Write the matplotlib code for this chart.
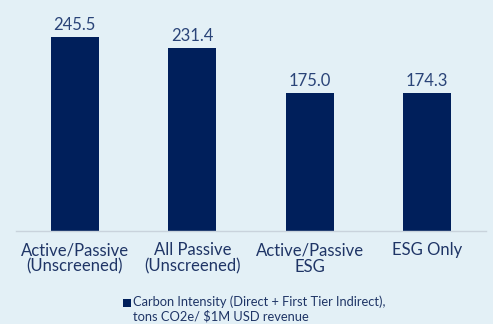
import matplotlib
matplotlib.use("Agg")
import matplotlib.pyplot as plt
from matplotlib.patches import Rectangle

categories = ["Active/Passive\n(Unscreened)", "All Passive\n(Unscreened)", "Active/Passive\nESG", "ESG Only"]
values = [245.5, 231.4, 175.0, 174.3]
series_name = "Carbon Intensity (Direct + First Tier Indirect),\ntons CO2e/ $1M USD revenue"

bg = "#E3F0F6"
bar_color = "#001F5B"
text_color = "#1F3566"

plt.rcParams['font.family'] = ['Lato', 'DejaVu Sans']

W, H = 493, 324
fig = plt.figure(figsize=(W/100, H/100), dpi=100)
fig.patch.set_facecolor(bg)
ax = fig.add_axes([16/W, (H-231)/H, 470/W, 231/H])
ax.set_facecolor(bg)

x = list(range(len(categories)))
bars = ax.bar(x, values, width=0.41, color=bar_color, label=series_name)
for xi, v in zip(x, values):
    ax.text(xi, v + 5, f"{v:.1f}", ha="center", va="bottom", fontsize=12, color="#2A4478")

ax.set_xlim(-0.5, 3.5)
ax.set_ylim(0, 292.3)
ax.set_yticks([])
ax.set_xticks(x)
ax.set_xticklabels(categories, fontsize=12, color=text_color, linespacing=1.05)
ax.tick_params(axis='x', length=0, pad=8)
for s in ["top", "right", "left"]:
    ax.spines[s].set_visible(False)
ax.spines["bottom"].set_color("#C9D3DC")
ax.spines["bottom"].set_linewidth(1)

# legend (marker aligned with first line)
fig.patches.append(Rectangle((123/W, 1 - 307/H), 8/W, 8/H, transform=fig.transFigure,
                             facecolor=bar_color, edgecolor="none"))
fig.text(133/W, 1 - 295/H, series_name, ha="left", va="top", fontsize=9.3,
         color=text_color, linespacing=1.25)

fig.savefig("out.png", dpi=100, facecolor=bg)
